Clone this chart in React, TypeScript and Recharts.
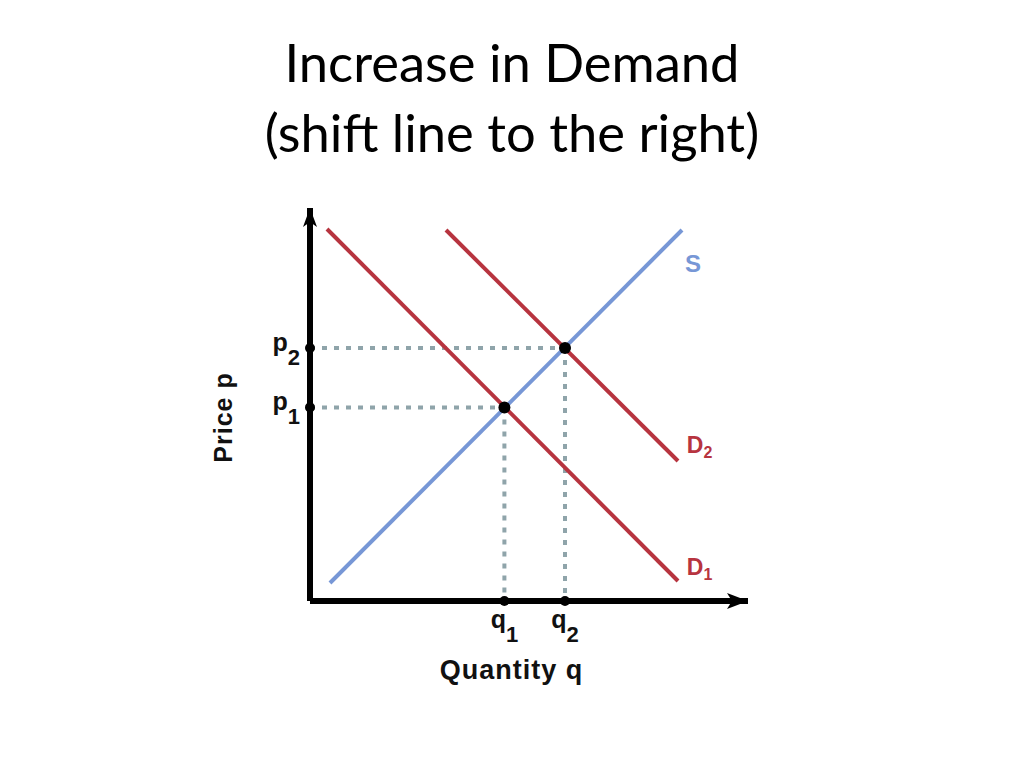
import React from 'react';
import { ComposedChart, Line, XAxis, YAxis, ReferenceLine, ReferenceDot } from 'recharts';

// Axis extent (arbitrary quantity / price units)
const X_MAX = 109.5;
const Y_MAX = 98.25;

// Curves
const supply = [ { x: 5, y: 4.5 }, { x: 93, y: 92.75 } ];
const demand1 = [ { x: 4.25, y: 93 }, { x: 92, y: 5 } ];
const demand2 = [ { x: 34, y: 92.75 }, { x: 92, y: 35 } ];

// Equilibria
const quantities = [48.6, 63.75];
const prices = [48.4, 63.25];
const subscripts = ['1', '2'];

// Curve name labels (anchor in data units)
const curveNames = ['S', 'D', 'D'];
const curveSubs = ['', '2', '1'];
const curveLabelX = [93.75, 94.2, 94.2];
const curveLabelY = [82.25, 37, 6.5];

const titleLines = ['Increase in Demand', '(shift line to the right)'];

const RED = '#b7343f';
const BLUE = '#7797d6';
const DOT_COLOR = '#8fa4aa';
const FONT = '"Liberation Sans", Arial, sans-serif';

const YTick = (props: any) => {
  const { x, y, payload } = props;
  const i = prices.indexOf(payload.value);
  return (
    <text x={x} y={y + 3} textAnchor="end" fontFamily={FONT} fontWeight="bold" fontSize={25} fill="#111">
      <tspan>p</tspan>
      <tspan dy={14} fontSize={22}>{subscripts[i]}</tspan>
    </text>
  );
};

const XTick = (props: any) => {
  const { x, y, payload } = props;
  const i = quantities.indexOf(payload.value);
  return (
    <text x={x} y={y} textAnchor="middle" fontFamily={FONT} fontWeight="bold" fontSize={25} fill="#111">
      <tspan>q</tspan>
      <tspan dy={14} fontSize={22}>{subscripts[i]}</tspan>
    </text>
  );
};

const curveColor = (i: number) => (i === 0 ? BLUE : RED);

export default function App() {
  return (
    <div style={{ position: 'absolute', left: 0, top: 0, width: 1024, height: 768, background: '#fff' }}>
      {titleLines.map((t, i) => (
        <div
          key={i}
          style={{
            position: 'absolute',
            left: 0,
            width: 1024,
            top: 27 + i * 70,
            height: 70,
            lineHeight: '70px',
            textAlign: 'center',
            fontFamily: 'Lato, "Open Sans", sans-serif',
            fontSize: 52.5,
            color: '#000',
            whiteSpace: 'nowrap',
          }}
        >
          {t}
        </div>
      ))}
      <ComposedChart
        width={1024}
        height={768}
        margin={{ top: 208, right: 276, bottom: 0, left: 0 }}
        style={{ position: 'absolute', left: 0, top: 0 }}
      >
        <XAxis
          type="number"
          dataKey="x"
          domain={[0, X_MAX]}
          ticks={quantities}
          tick={<XTick />}
          tickLine={false}
          tickSize={0}
          tickMargin={27}
          height={167}
          axisLine={{ stroke: '#000', strokeWidth: 6 }}
          allowDataOverflow
          label={{
            content: (p: any) => {
              const vb = p.viewBox;
              const cx = 511.5;
              const cy = vb.y + 78;
              return (
                <text
                  x={cx}
                  y={cy}
                  textAnchor="middle"
                  fontFamily={FONT}
                  fontWeight="bold"
                  fontSize={27}
                  letterSpacing={1}
                  fill="#111"
                >
                  Quantity q
                </text>
              );
            },
          }}
        />
        <YAxis
          type="number"
          dataKey="y"
          domain={[0, Y_MAX]}
          ticks={prices}
          tick={<YTick />}
          tickLine={false}
          tickSize={0}
          tickMargin={10}
          width={310}
          axisLine={{ stroke: '#000', strokeWidth: 6 }}
          allowDataOverflow
          label={{
            content: (p: any) => {
              const vb = p.viewBox;
              const cx = 232;
              const cy = vb.y + vb.height - (601 - 417.5);
              return (
                <text
                  x={cx}
                  y={cy}
                  transform={`rotate(-90 ${cx} ${cy})`}
                  textAnchor="middle"
                  fontFamily={FONT}
                  fontWeight="bold"
                  fontSize={25}
                  letterSpacing={1}
                  fill="#111"
                >
                  Price p
                </text>
              );
            },
          }}
        />

        {quantities.map((q, i) => (
          <ReferenceLine
            key={`h${i}`}
            segment={[{ x: 0, y: prices[i] }, { x: q, y: prices[i] }]}
            stroke={DOT_COLOR}
            strokeWidth={4}
            strokeDasharray="5 7"
            ifOverflow="visible"
          />
        ))}
        {quantities.map((q, i) => (
          <ReferenceLine
            key={`v${i}`}
            segment={[{ x: q, y: prices[i] }, { x: q, y: 0 }]}
            stroke={DOT_COLOR}
            strokeWidth={4}
            strokeDasharray="5 7"
            ifOverflow="visible"
          />
        ))}

        <Line data={demand1} dataKey="y" stroke={RED} strokeWidth={4} dot={false} isAnimationActive={false} />
        <Line data={demand2} dataKey="y" stroke={RED} strokeWidth={4} dot={false} isAnimationActive={false} />
        <Line data={supply} dataKey="y" stroke={BLUE} strokeWidth={4} dot={false} isAnimationActive={false} />

        {quantities.map((q, i) => (
          <ReferenceDot key={`e${i}`} x={q} y={prices[i]} r={6} fill="#000" stroke="none" ifOverflow="visible" />
        ))}
        {quantities.map((q, i) => (
          <ReferenceDot key={`qx${i}`} x={q} y={0} r={5} fill="#000" stroke="none" ifOverflow="visible" />
        ))}
        {prices.map((p, i) => (
          <ReferenceDot key={`py${i}`} x={0} y={p} r={5} fill="#000" stroke="none" ifOverflow="visible" />
        ))}

        <ReferenceDot
          x={X_MAX}
          y={0}
          r={1}
          ifOverflow="visible"
          shape={(p: any) => (
            <path
              d={`M${p.cx},${p.cy} L${p.cx - 21},${p.cy - 8} L${p.cx - 16},${p.cy} L${p.cx - 21},${p.cy + 8} Z`}
              fill="#000"
            />
          )}
        />
        <ReferenceDot
          x={0}
          y={Y_MAX}
          r={1}
          ifOverflow="visible"
          shape={(p: any) => (
            <path
              d={`M${p.cx},${p.cy} L${p.cx - 7},${p.cy + 19} L${p.cx},${p.cy + 14} L${p.cx + 7},${p.cy + 19} Z`}
              fill="#000"
            />
          )}
        />

        {curveNames.map((n, i) => (
          <ReferenceDot
            key={`lab${i}`}
            x={curveLabelX[i]}
            y={curveLabelY[i]}
            r={1}
            ifOverflow="visible"
            shape={(p: any) => (
              <text x={p.cx} y={p.cy} fontFamily={FONT} fontWeight="bold" fontSize={i === 0 ? 24 : 23} fill={curveColor(i)}>
                <tspan>{n}</tspan>
                {curveSubs[i] ? (
                  <tspan dy={5} fontSize={16}>
                    {curveSubs[i]}
                  </tspan>
                ) : null}
              </text>
            )}
          />
        ))}
      </ComposedChart>
    </div>
  );
}
